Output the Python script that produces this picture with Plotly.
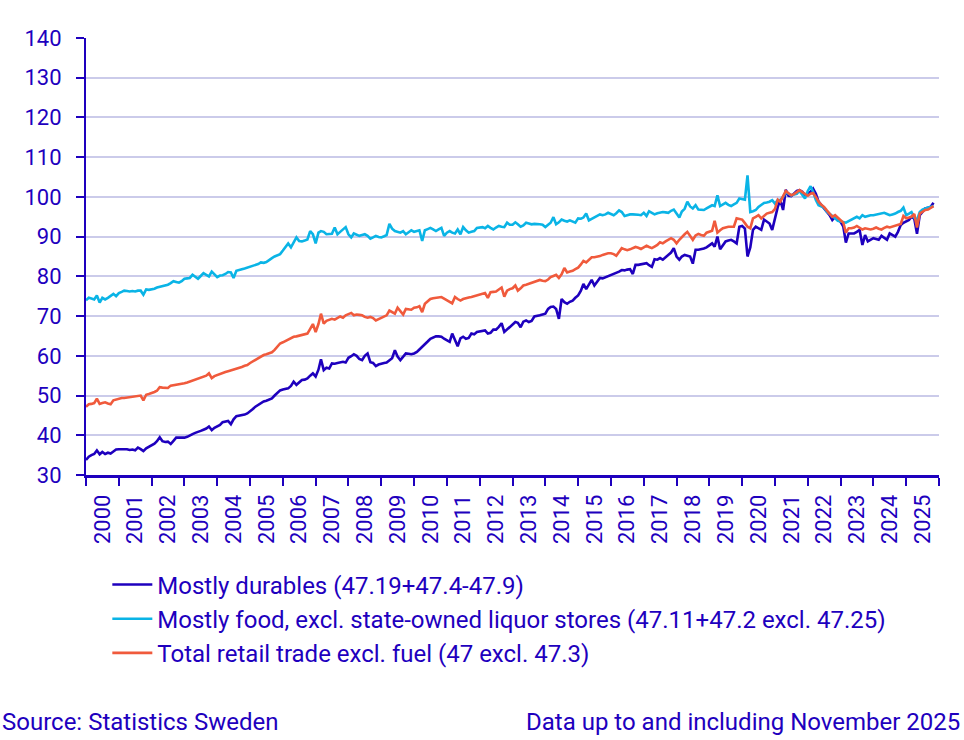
import pandas as pd
import plotly.graph_objects as go

# Retail trade volume index, monthly, Jan 2000 - Nov 2025 (2021 = 100)
durables = [
    33.8, 34.6, 35.0, 35.3, 36.2, 35.2, 35.8, 35.3, 35.6, 35.4, 35.9, 36.4,  # 2000
    36.5, 36.5, 36.4, 36.5, 36.3, 36.4, 36.2, 36.9, 36.5, 36.0, 36.7, 37.1,  # 2001
    37.6, 37.9, 38.5, 39.5, 38.5, 38.3, 38.4, 37.8, 38.6, 39.4, 39.4, 39.4,  # 2002
    39.4, 39.6, 40.0, 40.3, 40.6, 40.8, 41.1, 41.4, 41.7, 42.2, 41.3, 41.9,  # 2003
    42.3, 42.6, 43.3, 43.5, 43.6, 42.8, 44.0, 44.8, 44.9, 45.0, 45.2, 45.5,  # 2004
    46.0, 46.6, 47.2, 47.7, 48.2, 48.5, 48.7, 49.0, 49.3, 50.0, 50.6, 51.3,  # 2005
    51.5, 51.7, 51.8, 52.4, 53.5, 52.7, 53.2, 53.9, 54.0, 54.3, 55.0, 55.6,  # 2006
    54.8, 56.5, 59.1, 56.4, 57.0, 56.8, 58.1, 58.0, 58.2, 58.3, 58.5, 58.3,  # 2007
    59.5, 59.9, 60.4, 60.0, 59.2, 58.9, 60.0, 60.6, 58.4, 58.2, 57.4, 57.8,  # 2008
    58.1, 58.2, 58.3, 58.8, 59.4, 61.4, 59.8, 58.9, 59.9, 60.6, 60.5, 60.4,  # 2009
    60.6, 61.0, 61.6, 62.2, 63.0, 63.6, 64.3, 64.7, 64.9, 64.9, 64.8, 64.3,  # 2010
    64.0, 63.5, 65.6, 64.0, 62.4, 64.4, 64.8, 64.3, 64.5, 65.6, 65.4, 66.0,  # 2011
    66.1, 66.2, 66.4, 65.6, 65.8, 66.6, 66.6, 67.3, 68.2, 66.0, 66.6, 67.2,  # 2012
    67.8, 68.5, 68.3, 67.2, 68.6, 68.9, 68.5, 68.8, 69.9, 70.0, 70.2, 70.4,  # 2013
    70.6, 71.8, 72.3, 72.4, 71.8, 69.3, 74.3, 73.5, 73.1, 73.6, 73.9, 74.6,  # 2014
    75.2, 76.4, 78.1, 76.8, 78.0, 79.1, 77.7, 78.8, 79.6, 79.5, 79.8, 80.1,  # 2015
    80.4, 80.6, 80.8, 81.2, 81.6, 81.5, 81.7, 81.8, 80.6, 82.9, 82.9, 83.0,  # 2016
    83.2, 83.3, 82.8, 82.4, 84.3, 84.2, 84.6, 84.2, 84.8, 85.4, 86.0, 87.1,  # 2017
    85.0, 84.2, 85.0, 85.4, 85.2, 85.0, 83.2, 86.7, 86.7, 86.8, 87.0, 87.3,  # 2018
    87.8, 88.3, 87.5, 90.0, 86.8, 87.8, 88.8, 89.0, 89.2, 88.8, 88.3, 92.5,  # 2019
    92.7, 92.0, 85.0, 87.3, 91.7, 92.5, 92.0, 91.7, 94.3, 93.8, 93.3, 91.7,  # 2020
    95.0, 97.5, 99.2, 96.7, 101.8, 100.3, 100.2, 100.8, 101.5, 101.7, 101.3, 100.4,  # 2021
    100.8, 101.3, 102.1, 100.8, 98.8, 98.0, 97.1, 96.2, 95.4, 94.2, 95.0, 94.4,  # 2022
    93.7, 92.5, 88.5, 90.8, 90.8, 90.8, 91.2, 91.7, 87.9, 90.4, 88.8, 89.2,  # 2023
    89.6, 89.4, 89.2, 90.2, 89.6, 89.2, 90.8, 90.4, 90.0, 91.2, 92.9, 93.5,  # 2024
    93.8, 94.2, 95.0, 94.5, 90.7, 95.4, 96.2, 97.1, 97.3, 97.5, 98.5,  # 2025
]

food = [
    74.0, 74.6, 74.4, 74.2, 75.2, 73.4, 74.6, 74.2, 74.6, 75.0, 75.6, 75.0,  # 2000
    75.8, 76.1, 76.4, 76.3, 76.2, 76.3, 76.2, 76.4, 76.4, 75.4, 76.7, 76.6,  # 2001
    76.7, 76.9, 77.2, 77.4, 77.5, 77.7, 77.9, 78.3, 78.8, 78.6, 78.4, 78.8,  # 2002
    79.4, 79.5, 79.6, 80.4, 80.0, 79.4, 80.1, 80.8, 80.4, 80.0, 81.2, 80.5,  # 2003
    79.8, 80.2, 80.3, 80.6, 81.1, 81.0, 79.6, 81.4, 81.7, 81.8, 82.0, 82.2,  # 2004
    82.5, 82.7, 83.0, 83.1, 83.5, 83.4, 83.6, 84.2, 84.6, 85.0, 85.3, 85.6,  # 2005
    86.5, 87.3, 88.3, 87.3, 88.5, 89.8, 88.9, 88.8, 89.0, 89.3, 91.4, 90.6,  # 2006
    88.3, 91.0, 91.4, 91.2, 90.6, 90.6, 90.7, 92.3, 90.6, 91.2, 91.8, 92.4,  # 2007
    90.6, 89.8, 90.8, 90.5, 90.2, 90.4, 90.6, 90.2, 89.5, 89.8, 90.2, 89.9,  # 2008
    89.8, 90.1, 90.4, 93.2, 92.0, 91.4, 91.2, 91.0, 91.4, 90.6, 91.1, 91.6,  # 2009
    91.2, 91.4, 91.6, 88.9, 91.6, 91.9, 92.2, 91.8, 91.4, 91.8, 92.2, 90.2,  # 2010
    91.0, 91.4, 91.0, 90.8, 91.8, 90.6, 92.4, 91.6, 91.0, 91.2, 91.4, 92.2,  # 2011
    92.3, 92.4, 92.1, 92.7, 92.2, 91.8, 92.3, 92.7, 92.5, 92.4, 93.5, 93.0,  # 2012
    93.0, 93.6, 93.1, 92.5, 92.8, 93.5, 93.3, 93.1, 93.2, 93.2, 93.1, 93.0,  # 2013
    92.4, 93.0, 93.5, 94.9, 93.1, 93.6, 94.3, 94.0, 93.8, 94.1, 93.8, 93.5,  # 2014
    94.6, 94.5, 94.8, 95.8, 94.1, 94.5, 94.9, 95.2, 95.6, 95.4, 95.6, 96.0,  # 2015
    95.6, 95.4, 95.9, 96.6, 96.2, 95.2, 95.4, 95.6, 95.6, 95.6, 95.5, 95.4,  # 2016
    96.0, 95.2, 96.4, 96.0, 95.6, 95.9, 96.0, 96.2, 96.1, 96.0, 96.5, 96.8,  # 2017
    95.8, 94.8, 96.3, 97.0, 98.8, 97.6, 97.1, 97.9, 96.8, 96.8, 96.7, 97.1,  # 2018
    97.5, 97.9, 97.7, 100.4, 97.7, 98.2, 98.5, 98.0, 97.7, 98.1, 98.5, 99.6,  # 2019
    99.5, 99.3, 105.4, 96.2, 96.4, 96.7, 97.5, 98.0, 98.5, 98.6, 98.8, 99.2,  # 2020
    98.3, 99.2, 99.2, 100.0, 101.2, 100.8, 100.4, 100.6, 100.8, 101.5, 100.6, 99.6,  # 2021
    101.5, 102.7, 101.3, 99.2, 97.9, 97.5, 97.3, 96.3, 95.8, 95.2, 94.6, 94.0,  # 2022
    93.8, 93.6, 93.5, 93.9, 94.2, 94.6, 95.0, 94.6, 95.4, 95.0, 95.2, 95.4,  # 2023
    95.4, 95.6, 95.8, 95.9, 96.0, 95.7, 95.4, 95.6, 95.8, 96.2, 96.5, 97.3,  # 2024
    95.4, 95.8, 96.2, 94.8, 94.2, 96.2, 96.8, 97.1, 97.3, 97.5, 97.7,  # 2025
]

total = [
    47.2, 47.8, 47.9, 48.1, 49.2, 47.9, 48.1, 48.3, 48.0, 47.8, 48.8, 49.0,  # 2000
    49.3, 49.4, 49.4, 49.5, 49.6, 49.7, 49.8, 49.9, 50.0, 48.8, 50.2, 50.4,  # 2001
    50.6, 50.9, 51.2, 52.1, 52.0, 51.9, 51.9, 52.5, 52.6, 52.8, 52.8, 52.9,  # 2002
    53.1, 53.3, 53.5, 53.8, 54.0, 54.2, 54.4, 54.6, 55.0, 55.6, 54.4, 54.9,  # 2003
    55.2, 55.4, 55.6, 55.9, 56.1, 56.3, 56.5, 56.8, 57.0, 57.2, 57.5, 57.7,  # 2004
    58.2, 58.6, 59.1, 59.5, 59.9, 60.2, 60.4, 60.6, 60.9, 61.5, 62.2, 63.1,  # 2005
    63.4, 63.8, 64.2, 64.6, 64.8, 64.9, 65.1, 65.2, 65.4, 65.6, 66.8, 68.0,  # 2006
    66.0, 68.0, 70.6, 68.1, 68.8, 69.0, 69.3, 69.1, 69.5, 69.9, 69.6, 70.2,  # 2007
    70.5, 70.8, 70.2, 70.4, 70.3, 70.2, 69.8, 69.6, 69.8, 69.5, 68.9, 69.2,  # 2008
    69.6, 69.9, 70.2, 71.4, 70.9, 70.6, 72.1, 71.2, 70.4, 71.8, 71.7, 71.6,  # 2009
    72.1, 72.2, 72.5, 71.0, 73.1, 73.6, 74.3, 74.5, 74.6, 74.7, 74.8, 74.4,  # 2010
    74.1, 73.6, 73.2, 74.8, 74.3, 73.9, 74.3, 74.6, 74.7, 74.8, 75.0, 75.2,  # 2011
    75.4, 75.5, 75.8, 74.6, 76.0, 76.1, 76.2, 76.7, 77.2, 74.9, 76.4, 76.8,  # 2012
    77.0, 77.7, 76.4, 77.0, 77.7, 77.9, 78.1, 78.3, 78.5, 78.8, 79.1, 78.9,  # 2013
    78.8, 79.2, 79.8, 80.1, 80.4, 79.6, 80.5, 82.1, 81.0, 81.2, 81.4, 81.8,  # 2014
    82.2, 83.0, 83.9, 83.5, 84.1, 84.8, 84.8, 84.9, 85.1, 85.4, 85.6, 85.8,  # 2015
    85.8, 85.6, 85.2, 86.2, 87.1, 86.8, 86.6, 86.8, 87.1, 87.4, 87.2, 86.9,  # 2016
    87.3, 87.7, 87.4, 87.1, 87.5, 87.9, 88.6, 88.3, 88.8, 89.2, 89.6, 89.2,  # 2017
    88.3, 89.2, 90.0, 90.6, 91.2, 90.2, 89.2, 90.3, 90.7, 90.4, 90.2, 91.0,  # 2018
    91.2, 91.5, 94.0, 91.0, 91.6, 92.1, 92.3, 92.5, 92.5, 92.5, 94.6, 94.4,  # 2019
    94.3, 93.4, 92.5, 92.1, 94.6, 95.0, 95.4, 94.6, 95.2, 95.8, 96.0, 96.2,  # 2020
    97.0, 99.3, 98.8, 100.2, 101.5, 100.9, 100.4, 100.7, 101.2, 101.7, 101.2, 100.8,  # 2021
    100.3, 100.8, 101.0, 100.0, 98.8, 98.0, 97.5, 96.6, 95.8, 95.0, 95.4, 94.8,  # 2022
    94.2, 93.5, 91.0, 92.1, 92.1, 92.3, 92.7, 92.2, 91.8, 92.1, 92.0, 91.8,  # 2023
    92.0, 92.3, 92.0, 91.8, 92.2, 92.5, 92.3, 92.5, 92.7, 93.0, 93.2, 95.2,  # 2024
    94.6, 94.8, 95.0, 95.7, 92.3, 95.8, 96.2, 96.7, 96.8, 97.2, 97.7,  # 2025
]

names = [
    "Mostly durables (47.19+47.4-47.9)",
    "Mostly food, excl. state-owned liquor stores (47.11+47.2 excl. 47.25)",
    "Total retail trade excl. fuel (47 excl. 47.3)",
]

assert len(durables) == len(food) == len(total) == 311

months = pd.date_range("2000-01-01", periods=len(durables), freq="MS")

BLUE = "#1E00BE"
LIGHT = "#0AB4E6"
ORANGE = "#F05A3C"
GRID = "#CBCBEA"

fig = go.Figure()
for vals, name, col in zip([durables, food, total], names, [BLUE, LIGHT, ORANGE]):
    fig.add_trace(go.Scatter(x=months, y=vals, mode="lines", name=name,
                             legendgroup=name,
                             line=dict(color=col, width=2.6)))

fig.update_layout(
    width=964, height=740,
    margin=dict(l=86, r=25, t=38, b=265),
    plot_bgcolor="white", paper_bgcolor="white",
    font=dict(family="Roboto", size=22, color=BLUE),
    legend=dict(x=0.025, y=-0.2, xanchor="left", yanchor="top",
                tracegroupgap=0, itemwidth=40, bgcolor="rgba(0,0,0,0)",
                font=dict(size=24, color=BLUE)),
)

fig.update_xaxes(
    type="date", range=["2000-01-01", "2026-01-01"],
    tick0="2000-01-01", dtick="M12", tickformat="%Y",
    ticklabelmode="period", tickangle=-90,
    ticks="outside", ticklen=8, tickwidth=2, tickcolor=BLUE,
    showline=True, linecolor=BLUE, linewidth=2.5,
    showgrid=False, zeroline=False,
)
fig.update_yaxes(
    range=[30, 140], tick0=30, dtick=10,
    showgrid=True, gridcolor=GRID, gridwidth=2,
    ticks="outside", ticklen=8, tickwidth=2, tickcolor=BLUE,
    ticklabelstandoff=10,
    showline=True, linecolor=BLUE, linewidth=2,
    zeroline=False,
)

fig.add_annotation(text="Source: Statistics Sweden", xref="paper", yref="paper",
                   x=-86 / 853, y=-0.565, xanchor="left", yanchor="middle",
                   showarrow=False, font=dict(size=24, color=BLUE))
fig.add_annotation(text="Data up to and including November 2025", xref="paper", yref="paper",
                   x=876 / 853, y=-0.565, xanchor="right", yanchor="middle",
                   showarrow=False, font=dict(size=24, color=BLUE))

fig.write_html("out.html", config={"displayModeBar": False},
               post_script="document.body.style.margin='0';document.body.style.overflow='hidden';")
